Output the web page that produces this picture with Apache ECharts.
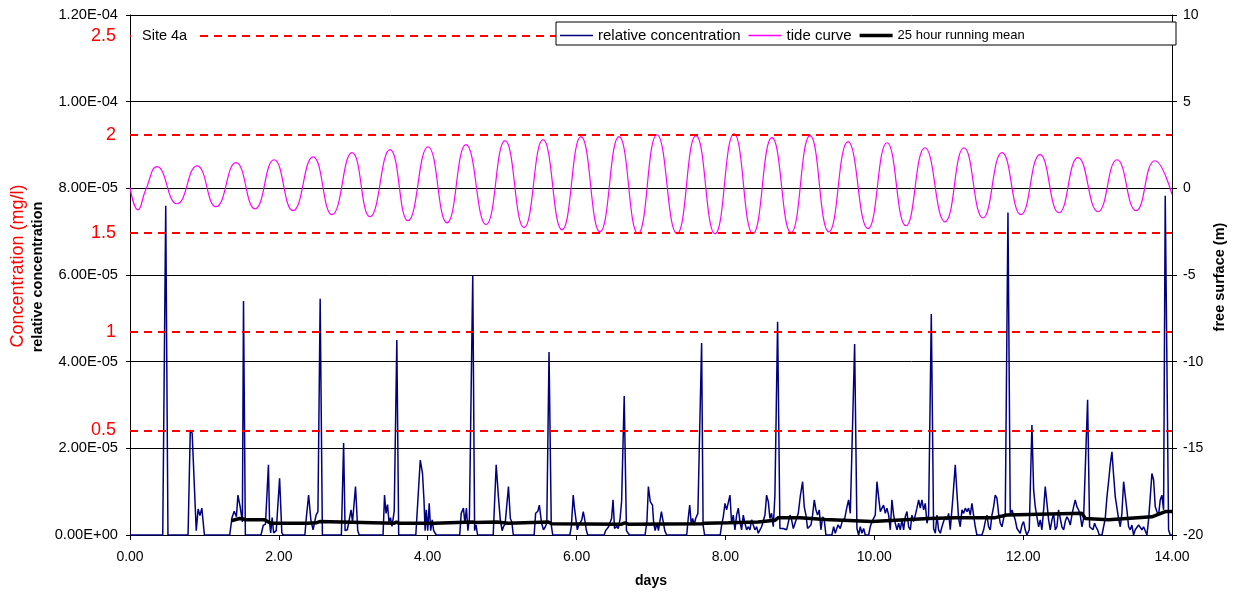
<!DOCTYPE html>
<html>
<head>
<meta charset="utf-8">
<title>Site 4a</title>
<script src="https://cdn.jsdelivr.net/npm/echarts@6/dist/echarts.min.js"></script>
<style>
html, body { margin: 0; padding: 0; background: #fff; }
#chart { width: 1235px; height: 597px; }
</style>
</head>
<body>
<div id="chart"></div>
<script>
// relative concentration, [day, value in 1E-05]
var concentration = [
	[0,0],[0.44,0],[0.48,7.6],[0.51,0],[0.78,0],[0.81,2.42],[0.835,2.35],[0.89,0.1],[0.915,0.6],[0.94,0.45],[0.965,0.62],[1.0,0],
	[1.34,0],[1.37,0.4],[1.40,0.55],[1.43,0.42],[1.45,0.92],[1.48,0.65],[1.51,0.3],[1.525,5.4],[1.55,0],
	[1.76,0],[1.79,0.22],[1.82,0.25],[1.86,1.62],[1.875,0.3],[1.89,0.05],[1.91,0.4],[1.93,0.05],[1.965,0.1],[2.01,1.31],[2.04,0.05],[2.06,0],
	[2.35,0],[2.37,0.42],[2.40,0.92],[2.43,0.35],[2.46,0.12],[2.50,0.46],[2.525,0.54],[2.555,5.45],[2.585,0],
	[2.84,0],[2.87,2.12],[2.89,0.1],[2.92,0.12],[2.94,0.3],[2.97,0.58],[2.99,0.3],[3.03,1.12],[3.06,0.1],[3.08,0],
	[3.40,0],[3.42,0.92],[3.44,0.5],[3.46,0.7],[3.48,0.3],[3.50,0.4],[3.52,0.2],[3.55,0.55],[3.585,4.5],[3.61,0],
	[3.84,0],[3.90,1.73],[3.93,1.42],[3.95,0.8],[3.965,0.1],[3.98,0.58],[4.0,0.1],[4.02,0.73],[4.04,0.1],[4.06,0.35],[4.08,0.1],[4.115,0],
	[4.43,0],[4.45,0.5],[4.48,0.62],[4.50,0.27],[4.52,0.62],[4.54,0.1],[4.56,0.38],[4.605,6.0],[4.63,0.1],[4.65,0.23],[4.67,0],
	[4.88,0],[4.92,1.62],[4.95,0.88],[4.975,0.35],[5.0,0.1],[5.02,0.2],[5.04,0.25],[5.085,1.12],[5.11,0.38],[5.13,0.3],[5.15,0],
	[5.43,0],[5.45,0.5],[5.48,0.55],[5.50,0.69],[5.53,0.27],[5.555,0.12],[5.58,0.19],[5.60,0.27],[5.63,4.22],[5.66,0.23],[5.68,0],
	[5.91,0],[5.93,0.2],[5.955,0.92],[5.97,0.65],[5.99,0.38],[6.01,0.12],[6.03,0.23],[6.055,0.23],[6.07,0.35],[6.09,0.54],[6.11,0.35],[6.13,0.12],[6.15,0],
	[6.37,0],[6.39,0.1],[6.43,0.19],[6.47,0.38],[6.49,0.81],[6.51,0.15],[6.54,0.2],[6.56,0.15],[6.585,0.38],[6.605,0.77],[6.64,3.21],[6.67,0.1],[6.69,0.12],[6.71,0],
	[6.92,0],[6.945,0.3],[6.965,1.12],[6.99,0.77],[7.02,0.69],[7.035,0.3],[7.055,0.1],[7.08,0.27],[7.10,0.1],[7.14,0.54],[7.165,0.54],[7.185,0.1],[7.21,0],
	[7.48,0],[7.50,0.38],[7.52,0.69],[7.54,0.27],[7.56,0.38],[7.58,0.23],[7.60,0.38],[7.63,0.5],[7.68,4.43],[7.70,0.23],[7.72,0],
	[7.93,0],[7.949,0.23],[7.971,0.42],[7.994,0.73],[8.016,0.58],[8.038,0.58],[8.061,0.92],[8.083,0.27],[8.105,0.46],[8.128,0.12],
	[8.15,0.46],[8.173,0.62],[8.195,0.31],[8.217,0.12],[8.24,0.46],[8.262,0.27],[8.285,0.12],[8.307,0.19],[8.329,0.12],[8.352,0.35],
	[8.374,0.23],[8.396,0.12],[8.419,0.19],[8.441,0.04],[8.464,0.12],[8.486,0.19],[8.531,0.46],[8.553,0.92],[8.576,0.77],[8.598,0.38],
	[8.62,0.5],[8.643,0.19],[8.665,0.92],[8.701,4.92],[8.732,0.15],[8.755,0.19],[8.777,0.15],[8.80,0.19],[8.822,0.12],[8.867,0.46],
	[8.889,0.35],[8.912,0.15],[8.934,0.15],[8.956,0.38],[8.979,0.5],[9.006,0.9],[9.037,1.23],[9.059,0.65],[9.082,0.46],[9.104,0.15],
	[9.127,0.15],[9.149,0.23],[9.171,0.46],[9.194,0.81],[9.216,0.58],[9.238,0.46],[9.261,0.58],[9.283,0.12],[9.306,0.42],[9.328,0.35],
	[9.35,0],[9.43,0],[9.454,0.19],[9.476,0.04],[9.512,0.23],[9.543,0.15],[9.575,0.35],[9.602,0.38],[9.633,0.65],[9.655,0.81],
	[9.678,0.5],[9.70,0.54],[9.736,4.41],[9.767,0.15],[9.79,0],[9.812,0.19],[9.834,0.04],[9.857,0.15],[9.879,0],[9.924,0],
	[9.946,0.19],[9.969,0.31],[9.991,0.31],[10.013,0.46],[10.036,1.23],[10.058,0.88],[10.081,0.54],[10.103,0.62],[10.125,0.69],[10.148,0.5],
	[10.17,0.62],[10.193,0.46],[10.215,0.12],[10.237,0.81],[10.26,0.46],[10.282,0.27],[10.305,0.12],[10.327,0.27],[10.349,0.12],[10.372,0.35],
	[10.394,0.12],[10.416,0.42],[10.439,0.54],[10.461,0.19],[10.484,0.12],[10.506,0.46],[10.528,0.31],[10.551,0.46],[10.573,0.62],[10.596,0.81],
	[10.618,0.62],[10.64,0.81],[10.663,0.58],[10.685,0.73],[10.708,0.27],[10.73,0.46],[10.766,5.1],[10.797,0.15],[10.82,0.04],[10.842,0.46],
	[10.864,0.12],[10.887,0.04],[10.909,0.19],[10.931,0.31],[10.954,0.42],[10.976,0.35],[10.999,0.5],[11.021,0.12],[11.057,0.88],[11.088,1.62],
	[11.111,0.96],[11.133,0.38],[11.155,0.19],[11.178,0.58],[11.20,0.5],[11.223,0.62],[11.245,0.54],[11.267,0.62],[11.29,0.46],[11.312,0.73],
	[11.334,0.46],[11.357,0.19],[11.379,0],[11.446,0],[11.469,0.12],[11.491,0.31],[11.514,0.46],[11.536,0.19],[11.558,0.12],[11.581,0.46],
	[11.603,0.65],[11.625,0.92],[11.648,0.85],[11.67,0.5],[11.693,0.27],[11.715,0.19],[11.737,0.38],[11.76,0.5],[11.796,7.44],[11.827,0.46],
	[11.849,0.58],[11.872,0.46],[11.894,0.35],[11.917,0.15],[11.939,0.12],[11.961,0.04],[11.984,0.23],[12.006,0.31],[12.028,0.12],[12.051,0],
	[12.082,0.12],[12.118,2.54],[12.141,1.04],[12.163,0.65],[12.185,0.42],[12.208,0.19],[12.23,0.35],[12.252,0.12],[12.275,0.58],[12.297,1.12],
	[12.32,0.73],[12.342,0.35],[12.364,0.12],[12.387,0.35],[12.409,0.5],[12.432,0.12],[12.454,0.19],[12.476,0.58],[12.499,0.62],[12.521,0.19],
	[12.544,0.12],[12.566,0.31],[12.588,0.42],[12.611,0.35],[12.633,0.23],[12.655,0.46],[12.678,0.65],[12.70,0.81],[12.723,0.65],[12.745,0.58],
	[12.767,0.46],[12.79,0.19],[12.812,0.38],[12.835,0.42],[12.866,3.12],[12.893,0.19],[12.915,0.19],[12.938,0.12],[12.96,0.27],[12.978,0.19],
	[13.0,0.12],[13.023,0],[13.059,0],[13.081,0.19],[13.103,0.38],[13.126,0.88],[13.148,1.23],[13.17,1.62],[13.193,1.92],[13.215,1.39],
	[13.238,0.88],[13.26,0.92],[13.282,0.38],[13.305,0.19],[13.327,0.5],[13.35,1.23],[13.372,1.19],[13.394,0.58],[13.417,0.19],[13.439,0.12],
	[13.461,0.23],[13.484,0],[13.506,0.12],[13.529,0.15],[13.551,0.23],[13.573,0.23],[13.596,0.12],[13.618,0.19],[13.641,0.23],[13.663,0],
	[13.685,0.35],[13.708,0.88],[13.73,1.42],[13.753,1.27],[13.775,0.65],[13.797,0.54],[13.82,0.46],[13.842,0.81],[13.864,0.92],[13.887,0.58],
	[13.909,7.83],[13.954,0.12],[13.976,0],[14.0,0]
];

// tide curve, [day, free surface m] at turning points
var tide = [
	[0,0.05],[0.107,-1.24],[0.21,-0.1],[0.363,1.25],[0.631,-0.89],[0.9,1.3],[1.155,-1.06],[1.424,1.48],[1.679,-1.18],[1.935,1.65],
	[2.19,-1.29],[2.459,1.82],[2.714,-1.52],[2.983,2.06],[3.224,-1.64],[3.493,2.23],[3.735,-1.87],[4.004,2.4],[4.259,-1.99],[4.514,2.52],
	[4.783,-2.1],[5.038,2.75],[5.294,-2.27],[5.549,2.81],[5.804,-2.39],[6.059,2.98],[6.315,-2.51],[6.57,2.98],[6.825,-2.62],[7.08,3.09],
	[7.349,-2.62],[7.604,3.04],[7.86,-2.62],[8.115,3.15],[8.37,-2.62],[8.625,2.92],[8.881,-2.56],[9.136,3.04],[9.391,-2.51],[9.647,2.69],
	[9.915,-2.33],[10.171,2.63],[10.426,-2.16],[10.681,2.34],[10.95,-1.93],[11.205,2.34],[11.461,-1.7],[11.716,2.06],[11.971,-1.52],[12.226,1.94],
	[12.482,-1.41],[12.737,1.77],[13.006,-1.35],[13.261,1.65],[13.517,-1.29],[13.771,1.59],[14.0,-0.35]
];

// 25 hour running mean, [day, value in 1E-05]
var runningMean = [
	[1.36,0.33],[1.47,0.38],[1.52,0.37],[1.55,0.35],[1.81,0.35],[1.89,0.27],[2.39,0.27],[2.50,0.28],[2.55,0.31],[2.57,0.27],
	[3.55,0.27],[3.58,0.3],[3.61,0.27],[4.09,0.27],[4.6,0.3],[4.635,0.29],[4.93,0.3],[5.08,0.27],[5.62,0.3],[5.665,0.26],
	[6.605,0.25],[6.65,0.28],[6.695,0.25],[7.68,0.26],[7.725,0.27],[8.04,0.28],[8.44,0.3],[8.665,0.34],[8.71,0.4],[9.0,0.4],
	[9.34,0.36],[9.97,0.31],[10.73,0.38],[11.09,0.4],[11.625,0.4],[11.78,0.46],[12.79,0.5],[12.835,0.38],[13.148,0.35],[13.73,0.42],
	[13.91,0.54],[14.0,0.54]
];

// concentration levels in mg/l shown as red dashed lines
var mgLevels = [0.5, 1, 1.5, 2, 2.5];

var seriesNames = ['relative concentration', 'tide curve', '25 hour running mean'];

var FONT = "'Liberation Sans', Arial, sans-serif";

// legend swatches: a horizontal band of the line's thickness inside a 33 x 10 box
function swatch(thick)
{
	var a = (5 - thick / 2).toFixed(2), b = (5 + thick / 2).toFixed(2);
	return 'path://M0,0H0.01V0.01H0Z M0,' + a + 'H33V' + b + 'H0Z M0,9.99H0.01V10H0Z';
}

function expLabel(v)
{
	var s = (v * 1e-5).toExponential(2);
	return s.replace(/e([+-])(\d)$/, 'E$10$2').toUpperCase();
}

var my_chart = echarts.init(document.getElementById('chart'));

var option = {
	animation: false,
	backgroundColor: '#fff',
	textStyle: { fontFamily: FONT, color: '#000' },

	grid: { left: 130, right: 63, top: 15, bottom: 62 },

	legend: {
		left: 560,
		top: 28,
		z: 8,
		padding: 0,
		itemWidth: 33,
		itemHeight: 10,
		itemGap: 8,
		symbolKeepAspect: false,
		textStyle: { fontFamily: FONT, color: '#000', fontSize: 15 },
		data: [
			{ name: seriesNames[0], icon: swatch(1.6) },
			{ name: seriesNames[1], icon: swatch(1.4) },
			{ name: seriesNames[2], icon: swatch(3.5), textStyle: { fontSize: 13 } }
		]
	},

	xAxis: {
		type: 'value',
		min: 0,
		max: 14,
		interval: 2,
		axisLine: { lineStyle: { color: '#000', width: 1 } },
		axisTick: { show: true, length: 5, lineStyle: { color: '#000' } },
		axisLabel: { fontFamily: FONT, fontSize: 14, color: '#000', margin: 15, formatter: function (v) { return v.toFixed(2); } },
		splitLine: { show: false }
	},

	yAxis: [{
		type: 'value',
		min: 0,
		max: 12,
		interval: 2,
		position: 'left',
		axisLine: { show: true, lineStyle: { color: '#000', width: 1 } },
		axisTick: { show: true, length: 4, lineStyle: { color: '#000' } },
		axisLabel: { fontFamily: FONT, fontSize: 14.7, color: '#000', margin: 12, formatter: expLabel },
		splitLine: { show: true, lineStyle: { color: '#000', width: 1 } }
	}, {
		type: 'value',
		min: -20,
		max: 10,
		interval: 5,
		position: 'right',
		axisLine: { show: true, lineStyle: { color: '#000', width: 1 } },
		axisTick: { show: true, length: 5, lineStyle: { color: '#000' } },
		axisLabel: { fontFamily: FONT, fontSize: 14, color: '#000', margin: 11 },
		splitLine: { show: false }
	}, {
		type: 'value',
		min: -0.03,
		max: 2.606,
		show: false
	}],

	series: [{
		name: seriesNames[0],
		type: 'line',
		yAxisIndex: 0,
		symbol: 'none',
		color: '#000080',
		lineStyle: { color: '#000080', width: 1.5 },
		data: concentration
	}, {
		name: seriesNames[1],
		type: 'line',
		yAxisIndex: 1,
		symbol: 'none',
		smooth: 0.5,
		color: '#ff00ff',
		lineStyle: { color: '#ff00ff', width: 1.2 },
		data: tide
	}, {
		name: seriesNames[2],
		type: 'line',
		yAxisIndex: 0,
		symbol: 'none',
		color: '#000',
		lineStyle: { color: '#000', width: 3.5 },
		data: runningMean
	}, {
		name: 'levels',
		type: 'line',
		yAxisIndex: 2,
		symbol: 'none',
		data: [],
		markLine: {
			silent: true,
			symbol: 'none',
			lineStyle: { color: '#ff0000', width: 2, type: [8, 6] },
			label: {
				position: 'start',
				distance: 14,
				color: '#ff0000',
				fontSize: 18,
				fontFamily: FONT,
				formatter: function (p) { return String(p.value); }
			},
			data: mgLevels.map(function (v) { return { yAxis: v }; })
		}
	}],

	graphic: [{
		type: 'rect',
		z: 7,
		shape: { x: 556, y: 22, width: 620, height: 23 },
		style: { fill: '#fff', stroke: '#000', lineWidth: 1 }
	}, {
		type: 'text', x: 131, y: 36, z: 7,
		style: {
			text: 'Site 4a', font: '14.5px ' + FONT, fill: '#000', align: 'left', verticalAlign: 'middle',
			backgroundColor: '#fff', padding: [3, 11, 3, 11]
		}
	}, {
		type: 'text', x: 38, y: 277, rotation: Math.PI / 2, z: 7,
		style: { text: 'relative concentration', font: 'bold 14.5px ' + FONT, fill: '#000', align: 'center', verticalAlign: 'middle' }
	}, {
		type: 'text', x: 18, y: 266, rotation: Math.PI / 2, z: 7,
		style: { text: 'Concentration (mg/l)', font: '18px ' + FONT, fill: '#ff0000', align: 'center', verticalAlign: 'middle' }
	}, {
		type: 'text', x: 1220, y: 277, rotation: Math.PI / 2, z: 7,
		style: { text: 'free surface (m)', font: 'bold 14.5px ' + FONT, fill: '#000', align: 'center', verticalAlign: 'middle' }
	}, {
		type: 'text', x: 651, y: 581, z: 7,
		style: { text: 'days', font: 'bold 14px ' + FONT, fill: '#000', align: 'center', verticalAlign: 'middle' }
	}]
};

my_chart.setOption(option);
</script>
</body>
</html>
